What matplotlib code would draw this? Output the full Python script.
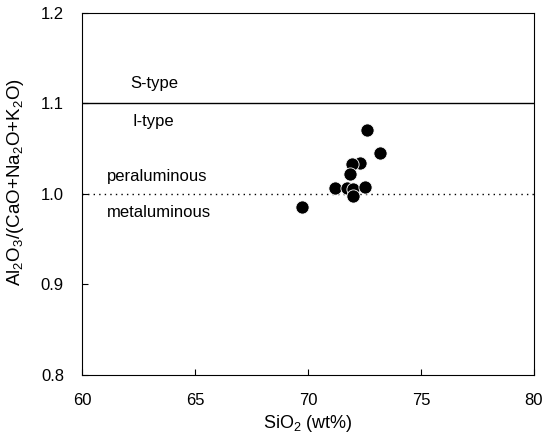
"""
Al2O3/(CaO+Na2O+K2O) vs SiO2 - granite classification diagram
"""
import matplotlib
matplotlib.use("Agg")
import matplotlib.pyplot as plt

# ── Dados ──────────────────────────────────────────────
sio2 = [72.60, 73.19, 72.30, 71.93, 71.86, 71.19, 71.71, 72.00, 72.52, 71.98, 69.72]
asi = [1.071, 1.045, 1.034, 1.033, 1.022, 1.006, 1.006, 1.005, 1.008, 0.998, 0.986]

x_ticks = [60, 65, 70, 75, 80]
y_ticks = [0.8, 0.9, 1.0, 1.1, 1.2]

plt.rcParams["font.family"] = ["Liberation Sans", "DejaVu Sans"]
plt.rcParams["mathtext.fontset"] = "custom"
plt.rcParams["mathtext.rm"] = "Liberation Sans"

fig = plt.figure(figsize=(5.42, 4.44), dpi=100)
ax = fig.add_axes([0.1513, 0.156, 0.8339, 0.8147])

# limites S-type / I-type e peraluminoso / metaluminoso
ax.axhline(1.1, color="black", linewidth=1.0)
ax.axhline(1.0, color="black", linewidth=1.0, linestyle=(0, (1, 3)))

ax.plot(sio2, asi, "o", color="black", markersize=9.5,
        markeredgecolor="white", markeredgewidth=0.6, zorder=3)

ax.text(63.2, 1.122, "S-type", fontsize=12, ha="center", va="center")
ax.text(63.15, 1.080, "I-type", fontsize=12, ha="center", va="center")
ax.text(61.1, 1.019, "peraluminous", fontsize=12, ha="left", va="center")
ax.text(61.1, 0.979, "metaluminous", fontsize=12, ha="left", va="center")

ax.set_xlim(60, 80)
ax.set_ylim(0.8, 1.2)
ax.set_xticks(x_ticks)
ax.set_yticks(y_ticks)
ax.set_yticklabels([f"{v:.1f}" for v in y_ticks])
ax.tick_params(direction="in", length=4, labelsize=12, pad=13)

ax.set_xlabel("SiO$_\\mathrm{2}$ (wt%)", fontsize=13, labelpad=4)
ax.set_ylabel("Al$_\\mathrm{2}$O$_\\mathrm{3}$/(CaO+Na$_\\mathrm{2}$O+K$_\\mathrm{2}$O)",
              fontsize=13.5)
ax.yaxis.set_label_coords(-0.124, 0.532)

plt.savefig("out.png", dpi=100)
